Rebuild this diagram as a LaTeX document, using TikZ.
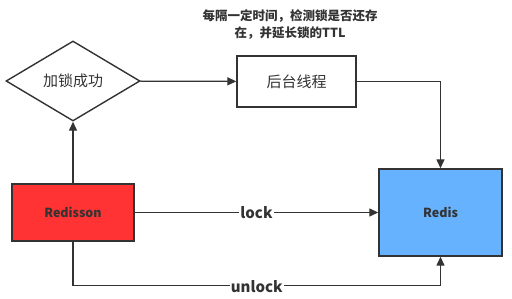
\documentclass[tikz,border=0pt]{standalone}
\usepackage{fontspec}
\setmainfont{Noto Sans CJK SC}
\usepackage{tikz}
\usetikzlibrary{arrows.meta,shapes.geometric}
\definecolor{LineGrey}{HTML}{333333}
\definecolor{LockRed}{HTML}{FF3333}
\definecolor{RedisBlue}{HTML}{66B2FF}

\begin{document}
\begin{tikzpicture}[
    x=1pt,y=-1pt,
    stepbox/.style={draw=LineGrey,line width=1.4pt,fill=white,inner sep=0pt,
                    font=\fontsize{15}{17}\selectfont,text=LineGrey},
    decide/.style={stepbox,diamond,aspect=1.675,minimum width=134pt,minimum height=80pt},
    flow/.style={->,line width=1.3pt,draw=LineGrey},
    lbl/.style={fill=white,inner sep=1pt,font=\fontsize{15}{17}\selectfont\bfseries,text=LineGrey},
    >={Triangle[length=9pt,width=8pt]}
  ]
  \useasboundingbox (0,0) rectangle (512,299);
  \node[decide] (succ) at (73,81) {加锁成功};
  \node[stepbox,minimum width=119pt,minimum height=51pt] (daemon) at (296.5,81.5) {后台线程};
  \node[stepbox,fill=LockRed,minimum width=122pt,minimum height=57pt,
        font=\fontsize{12.5}{14}\selectfont\bfseries] (redisson) at (73,212.5) {Redisson};
  \node[stepbox,fill=RedisBlue,minimum width=123pt,minimum height=87pt,
        font=\fontsize{12.5}{14}\selectfont\bfseries] (redis) at (440.5,212.5) {Redis};
  % note on the watchdog thread
  \node[align=center,text=LineGrey,font=\fontsize{12.5}{17}\selectfont\bfseries] (note) at (290,25)
    {每隔一定时间，检测锁是否还存\\在，并延长锁的TTL};

  \draw[flow] (redisson) -- (succ);
  \draw[flow] (succ) -- (daemon);
  \draw[flow] (daemon.east) -| (redis.north);
  \draw[flow] (redisson) -- node[lbl]{lock} (redis);
  \draw[flow] (redisson.south) -- ++(0,44) -| node[lbl,pos=0.25,yshift=-1pt]{unlock} (redis.south);
\end{tikzpicture}
\end{document}
